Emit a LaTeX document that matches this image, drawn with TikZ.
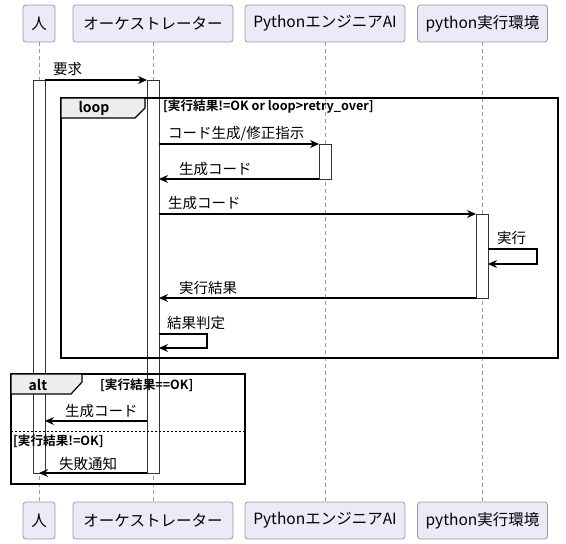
\documentclass[tikz,border=0pt]{standalone}
\usepackage{fontspec}
\setmainfont{Noto Sans CJK JP}[BoldFont={Noto Sans CJK JP Bold}]
\usetikzlibrary{arrows.meta}

\definecolor{actfill}{rgb}{0.92,0.92,0.97}
\definecolor{actline}{rgb}{0.6,0.6,0.6}
\definecolor{lifegray}{rgb}{0.62,0.62,0.62}
\definecolor{bargray}{rgb}{0.2,0.2,0.2}
\definecolor{tabgray}{rgb}{0.93,0.93,0.93}

\tikzset{
	actor/.style={draw=actline,fill=actfill,rounded corners=3pt,line width=0.8pt,minimum height=37pt,inner sep=0pt,font=\fontsize{15.5}{18}\selectfont},
	lifeline/.style={lifegray,line width=0.9pt,dash pattern=on 3.5pt off 3.5pt},
	actbar/.style={draw=bargray,fill=white,line width=1pt},
	msg/.style={line width=1.1pt,-{Stealth[length=9pt,width=8pt,inset=3pt]}},
	lbl/.style={inner sep=0pt,anchor=west,font=\fontsize{14.5}{17}\selectfont},
	frame/.style={line width=1.8pt},
	tab/.style={draw,fill=tabgray,line width=1.2pt},
	cond/.style={inner sep=0pt,anchor=west,font=\bfseries\fontsize{12.6}{14}\selectfont}
}

\begin{document}
\begin{tikzpicture}[x=1pt,y=-1pt]
	\useasboundingbox (0,0) rectangle (566,544);

	% actors
	\node[actor,minimum width=32pt] at (39,23.5) (h) {人};
	\node[actor,minimum width=160pt] at (153,23.5) (orc) {オーケストレーター};
	\node[actor,minimum width=160pt] at (325,23.5) (ai) {PythonエンジニアAI};
	\node[actor,minimum width=130pt] at (482.5,23.5) (env) {python実行環境};

	\node[actor,minimum width=32pt] at (39,520.5) (hb) {人};
	\node[actor,minimum width=160pt] at (153,520.5) (orcb) {オーケストレーター};
	\node[actor,minimum width=160pt] at (325,520.5) (aib) {PythonエンジニアAI};
	\node[actor,minimum width=130pt] at (482.5,520.5) (envb) {python実行環境};

	\draw[lifeline] (h.south) to (hb.north);
	\draw[lifeline] (orc.south) to (orcb.north);
	\draw[lifeline] (ai.south) to (aib.north);
	\draw[lifeline] ([xshift=-0.5pt]env.south) to ([xshift=-0.5pt]envb.north);

	% activations
	\draw[actbar] (33,80) rectangle (45,473);
	\draw[actbar] (147,80) rectangle (159,473);
	\draw[actbar] (319,144) rectangle (331,179);
	\draw[actbar] (476,214) rectangle (488,298);

	% message end points
	\coordinate (req1) at (45,80);
	\coordinate (req2) at (147,80);
	\coordinate (gen1) at (159,144);
	\coordinate (gen2) at (319,144);
	\coordinate (code1) at (319,179);
	\coordinate (code2) at (159,179);
	\coordinate (run1) at (159,214);
	\coordinate (run2) at (476,214);
	\coordinate (self1) at (488,249);
	\coordinate (self2) at (488,264);
	\coordinate (res1) at (476,298);
	\coordinate (res2) at (159,298);
	\coordinate (judge1) at (159,334);
	\coordinate (judge2) at (159,348);
	\coordinate (ok1) at (147,421);
	\coordinate (ok2) at (45,421);
	\coordinate (ng1) at (147,473);
	\coordinate (ng2) at (39,473);

	\draw[msg] (req1) to (req2);
	\draw[msg] (gen1) to (gen2);
	\draw[msg] (code1) to (code2);
	\draw[msg] (run1) to (run2);
	\draw[msg] (self1) -- ++(49,0) |- (self2);
	\draw[msg] (res1) to (res2);
	\draw[msg] (judge1) -- ++(48,0) |- (judge2);
	\draw[msg] (ok1) to (ok2);
	\draw[msg] (ng1) to (ng2);

	\node[lbl] at (53,69) (lreq) {要求};
	\node[lbl] at (168,134) (lgen) {コード生成/修正指示};
	\node[lbl] at (179,169) (lcode) {生成コード};
	\node[lbl] at (168,203.5) (lrun) {生成コード};
	\node[lbl] at (497,238.5) (lself) {実行};
	\node[lbl] at (179,288) (lres) {実行結果};
	\node[lbl] at (167,323) (ljudge) {結果判定};
	\node[lbl] at (65,411.5) (lok) {生成コード};
	\node[lbl] at (59,463.5) (lng) {失敗通知};

	% loop
	\draw[frame] (61,98) rectangle (558,358);
	\draw[tab] (61,98) -- (145,98) -- (145,108) -- (135,118) -- (61,118) -- cycle;
	\node[font=\bfseries\fontsize{14}{16}\selectfont,inner sep=0pt] at (94,108) (loop) {loop};
	\node[cond] at (163,107) (cloop) {[実行結果!=OK or loop>retry\_over]};

	% alt
	\draw[frame] (11,374) rectangle (245,484);
	\draw[tab] (11,374) -- (82,374) -- (82,382) -- (71,394) -- (11,394) -- cycle;
	\node[font=\bfseries\fontsize{14}{16}\selectfont,inner sep=0pt] at (38,385) (alt) {alt};
	\node[cond] at (100,385) (cok) {[実行結果==OK]};
	\draw[line width=0.9pt,dash pattern=on 2pt off 2pt] (11,431) -- (245,431);
	\node[cond] at (13,441) (cng) {[実行結果!=OK]};
\end{tikzpicture}
\end{document}
